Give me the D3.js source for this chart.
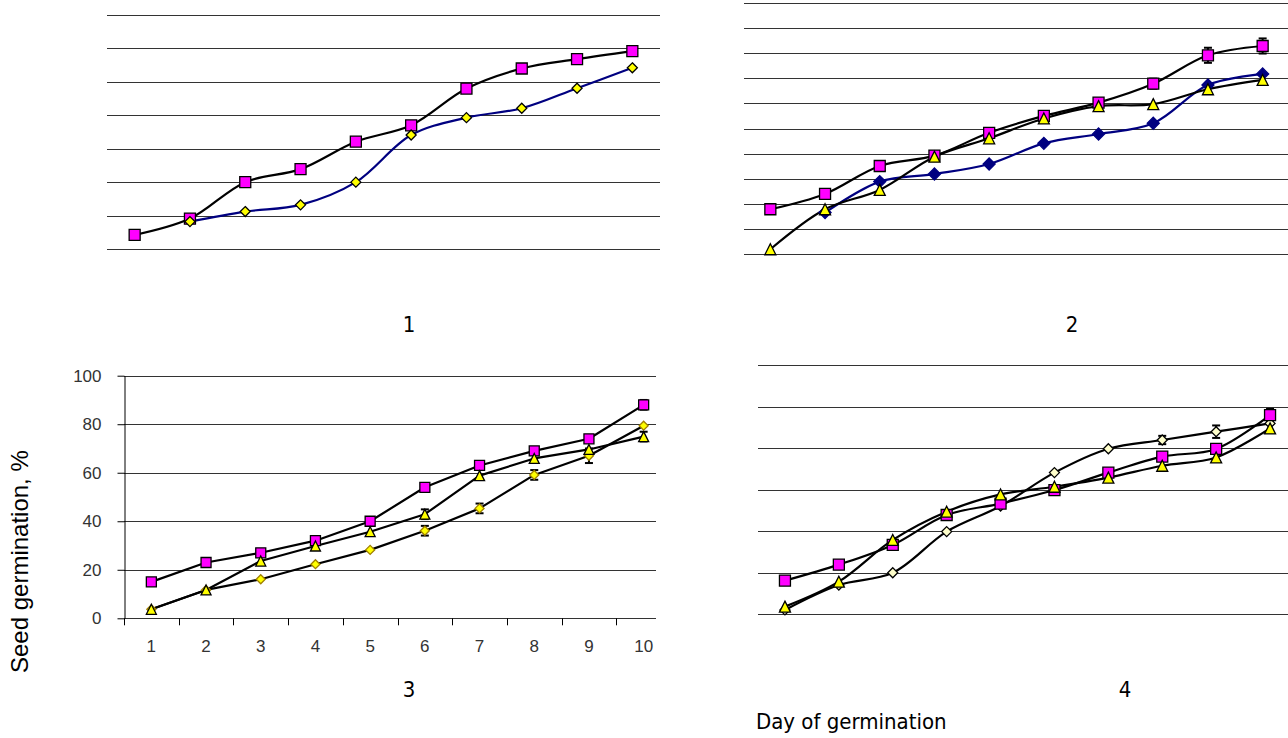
<!DOCTYPE html>
<html>
<head>
<meta charset="utf-8">
<script src="https://cdn.jsdelivr.net/npm/d3@7"></script>
<style>
  html, body { margin: 0; padding: 0; background: #fff; }
  svg { display: block; }
</style>
</head>
<body>
<svg id="chart" width="1288" height="738"></svg>
<script>
// ---------- DATA ----------
const days = ["1","2","3","4","5","6","7","8","9","10"];

// Panel 1 (7 grid intervals)
const p1Square  = [4.2, 9.1, 20.0, 23.9, 32.1, 37.0, 48.0, 54.0, 56.8, 59.2];
const p1Diamond = [null, 8.2, 11.2, 13.2, 20.0, 34.1, 39.3, 42.1, 48.1, 54.2];
const p1SquareErr = [0, 0, 0, 0, 0, 0, 0, 0, 0, 1.2];

// Panel 2 (10 grid intervals)
const p2Square   = [17.9, 24.0, 35.1, 39.2, 48.3, 55.0, 60.3, 67.8, 79.1, 82.8];
const p2Triangle = [2.0, 17.9, 25.6, 38.8, 46.1, 54.0, 58.9, 59.7, 65.6, 69.3];
const p2Diamond  = [null, 16.6, 28.9, 31.9, 35.9, 44.1, 47.8, 52.1, 67.3, 71.7];
const p2SquareErr = [0, 0, 0, 0, 0, 0, 0, 2, 3, 3];

// Panel 3 (labelled 0-100)
const p3Square   = [15, 23, 27, 32, 40, 54, 63, 69, 74, 88];
const p3Triangle = [3.7, 11.7, 23.6, 29.8, 35.7, 42.9, 58.8, 65.9, 69.6, 74.9];
const p3Diamond  = [3.7, 11.7, 16.1, 22.3, 28.2, 36.1, 45.3, 59.1, 67.0, 79.4];
const p3SquareErr   = [0, 0, 0, 0, 0, 0, 0, 1.5, 0, 2];
const p3TriangleErr = [0, 0, 0, 0, 0, 2, 0, 0, 0, 2];
const p3DiamondErr  = [0, 0, 0, 0, 0, 2, 2, 2, 3, 0];
const yTicks3 = [0, 20, 40, 60, 80, 100];

// Panel 4 (6 grid intervals)
const p4Square   = [16.2, 23.9, 33.4, 47.8, 53.3, 59.8, 68.2, 75.9, 79.6, 95.9];
const p4Triangle = [3.7, 15.7, 35.8, 49.4, 57.7, 61.4, 65.8, 71.5, 75.5, 89.5];
const p4Diamond  = [2.1, 14.1, 20.0, 39.8, 52.1, 68.2, 79.7, 83.9, 87.9, 91.9];
const p4SquareErr   = [0, 0, 0, 0, 0, 0, 0, 0, 0, 3];
const p4TriangleErr = [0, 0, 0, 0, 0, 0, 0, 0, 0, 2];
const p4DiamondErr  = [0, 0, 0, 0, 0, 0, 0, 2, 3, 0];

const panelLabels = ["1", "2", "3", "4"];
const yTitle = "Seed germination, %";
const xTitle = "Day of germination";

// ---------- DRAWING ----------
const svg = d3.select("#chart");
const PINK = "#ff00ff", YELLOW = "#ffff00", CREAM = "#ffffcc", NAVY = "#000080";
const labelFont = "'DejaVu Sans Condensed','DejaVu Sans',Verdana,sans-serif";
const arialFont = "'Liberation Sans',Arial,sans-serif";

function markerPath(type, s) {
  const h = s / 2;
  if (type === "square") return `M${-h},${-h}H${h}V${h}H${-h}Z`;
  if (type === "diamond") return `M0,${-h}L${h},0L0,${h}L${-h},0Z`;
  if (type === "triangle") return `M0,${-h}L${h},${h}L${-h},${h}Z`;
}

function drawPanel(cfg) {
  const g = svg.append("g");
  const x = d3.scaleBand().domain(days).range([cfg.x0, cfg.x1]);
  const y = d3.scaleLinear().domain([0, cfg.max]).range([cfg.yb, cfg.yt]);
  const cx = d => x(d) + x.bandwidth() / 2;

  // gridlines
  g.append("g").selectAll("line")
    .data(d3.range(0, cfg.max + cfg.step / 2, cfg.step))
    .join("line")
    .attr("x1", cfg.gx0).attr("x2", cfg.gx1)
    .attr("y1", d => Math.round(y(d)) + 0.5).attr("y2", d => Math.round(y(d)) + 0.5)
    .attr("stroke", "#333").attr("stroke-width", 1);

  if (cfg.axes) {
    const ya = g.append("g").attr("transform", `translate(${cfg.x0 + 0.5},0)`)
      .call(d3.axisLeft(y).tickValues(yTicks3).tickSize(7).tickPadding(16).tickSizeOuter(0));
    ya.select(".domain").attr("stroke", "#000");
    ya.selectAll(".tick line").attr("stroke", "#000");
    ya.selectAll("text").attr("font-family", arialFont).attr("font-size", 17).attr("fill", "#333");

    const xa = g.append("g").attr("transform", `translate(0,${Math.round(y(0)) + 0.5})`)
      .call(d3.axisBottom(x).tickSize(0).tickPadding(21));
    xa.select(".domain").remove();
    xa.selectAll("text").attr("font-family", arialFont).attr("font-size", 17).attr("fill", "#333");
    // boundary ticks
    g.append("g").selectAll("line").data(days).join("line")
      .attr("x1", d => Math.round(x(d)) + 0.5).attr("x2", d => Math.round(x(d)) + 0.5)
      .attr("y1", y(0)).attr("y2", y(0) + 7)
      .attr("stroke", "#000");
  }

  const line = d3.line()
    .defined(d => d.v !== null)
    .x(d => cx(d.day)).y(d => y(d.v))
    .curve(cfg.smooth ? d3.curveCatmullRom.alpha(0.5) : d3.curveLinear);

  const rows = cfg.series.map(s => ({...s, pts: days.map((day, i) => ({day, v: s.values[i], e: s.err ? s.err[i] : 0}))}));

  rows.forEach(s => {
    g.append("path").datum(s.pts).attr("d", line)
      .attr("fill", "none").attr("stroke", s.line).attr("stroke-width", 2.2)
      .attr("stroke-linejoin", "round");
  });
  // error bars
  rows.forEach(s => {
    const eb = g.append("g");
    s.pts.filter(p => p.v !== null && p.e > 0).forEach(p => {
      const X = cx(p.day);
      eb.append("line").attr("x1", X).attr("x2", X).attr("y1", y(p.v - p.e)).attr("y2", y(p.v + p.e))
        .attr("stroke", "#000").attr("stroke-width", 2);
      [p.v - p.e, p.v + p.e].forEach(v => eb.append("line")
        .attr("x1", X - 4).attr("x2", X + 4).attr("y1", y(v)).attr("y2", y(v))
        .attr("stroke", "#000").attr("stroke-width", 2));
    });
  });
  // markers (order given by cfg.markerOrder)
  cfg.markerOrder.forEach(idx => {
    const s = rows[idx];
    g.append("g").selectAll("path").data(s.pts.filter(p => p.v !== null)).join("path")
      .attr("transform", p => `translate(${cx(p.day)},${y(p.v)})`)
      .attr("d", markerPath(s.marker, s.size))
      .attr("fill", s.fill).attr("stroke", s.stroke).attr("stroke-width", 1.3);
  });
}

// Panel 1
drawPanel({
  x0: 107, x1: 660, yb: 249, yt: 15, max: 70, step: 10, gx0: 107, gx1: 660, smooth: true, axes: false,
  series: [
    {values: p1Diamond, marker: "diamond", size: 10, fill: YELLOW, stroke: "#000", line: NAVY},
    {values: p1Square, err: p1SquareErr, marker: "square", size: 11, fill: PINK, stroke: "#000", line: "#000"}
  ],
  markerOrder: [1, 0]
});

// Panel 2
drawPanel({
  x0: 743, x1: 1290, yb: 254.3, yt: 2.7, max: 100, step: 10, gx0: 744, gx1: 1288, smooth: true, axes: false,
  series: [
    {values: p2Diamond, marker: "diamond", size: 12, fill: NAVY, stroke: NAVY, line: NAVY},
    {values: p2Square, err: p2SquareErr, marker: "square", size: 11, fill: PINK, stroke: "#000", line: "#000"},
    {values: p2Triangle, marker: "triangle", size: 11, fill: YELLOW, stroke: "#000", line: "#000"}
  ],
  markerOrder: [0, 1, 2]
});

// Panel 3
drawPanel({
  x0: 124, x1: 671, yb: 618.3, yt: 375.7, max: 100, step: 20, gx0: 124, gx1: 656, smooth: false, axes: true,
  series: [
    {values: p3Diamond, err: p3DiamondErr, marker: "diamond", size: 9, fill: YELLOW, stroke: "#a08000", line: "#000"},
    {values: p3Square, err: p3SquareErr, marker: "square", size: 10, fill: PINK, stroke: "#000", line: "#000"},
    {values: p3Triangle, err: p3TriangleErr, marker: "triangle", size: 10, fill: YELLOW, stroke: "#000", line: "#000"}
  ],
  markerOrder: [0, 1, 2]
});

// Panel 4
drawPanel({
  x0: 758, x1: 1297, yb: 614.3, yt: 365, max: 120, step: 20, gx0: 758, gx1: 1288, smooth: true, axes: false,
  series: [
    {values: p4Diamond, err: p4DiamondErr, marker: "diamond", size: 10, fill: CREAM, stroke: "#000", line: "#000"},
    {values: p4Square, err: p4SquareErr, marker: "square", size: 11, fill: PINK, stroke: "#000", line: "#000"},
    {values: p4Triangle, err: p4TriangleErr, marker: "triangle", size: 11, fill: YELLOW, stroke: "#000", line: "#000"}
  ],
  markerOrder: [0, 1, 2]
});

// Panel labels
const labelPos = [[409, 332], [1072, 332], [409, 697], [1125, 697]];
svg.append("g").selectAll("text").data(panelLabels).join("text")
  .attr("x", (d, i) => labelPos[i][0]).attr("y", (d, i) => labelPos[i][1])
  .attr("text-anchor", "middle")
  .attr("font-family", labelFont).attr("font-stretch", "condensed").attr("font-size", 22).attr("fill", "#000")
  .text(d => d);

// Axis titles
svg.append("text")
  .attr("transform", "translate(28,673) rotate(-90)")
  .attr("font-family", arialFont).attr("font-size", 24).attr("fill", "#000")
  .text(yTitle);

svg.append("text")
  .attr("x", 756).attr("y", 729)
  .attr("font-family", labelFont).attr("font-stretch", "condensed").attr("font-size", 22).attr("fill", "#000")
  .text(xTitle);
</script>
</body>
</html>
